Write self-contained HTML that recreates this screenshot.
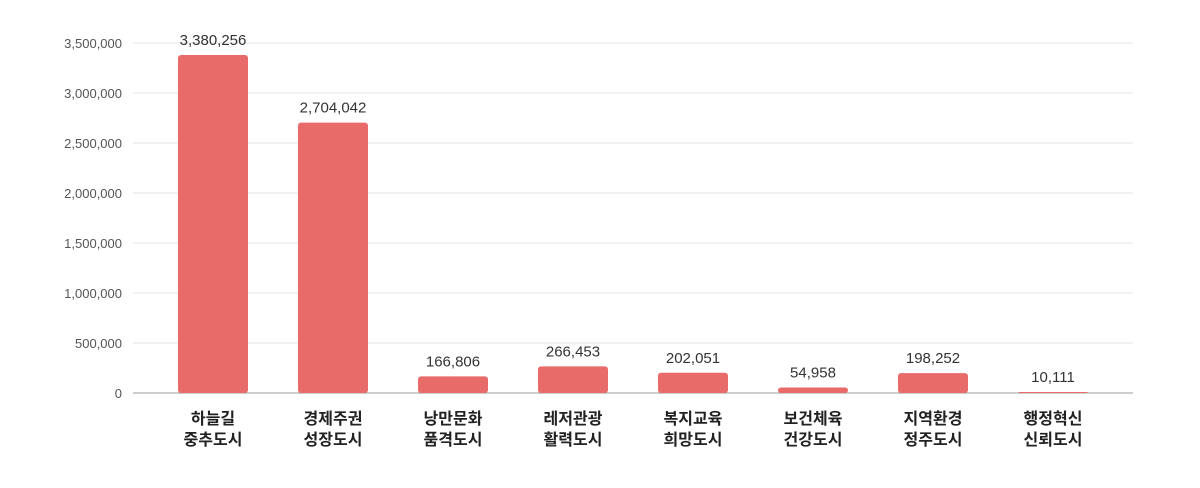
<!DOCTYPE html>
<html><head><meta charset="utf-8"><style>
body{margin:0;background:#fff;}
svg{display:block;font-family:"Liberation Sans","Noto Sans CJK KR",sans-serif;}
</style></head><body>
<svg id="chart" width="1200" height="488" viewBox="0 0 1200 488"></svg>
<script>
const categories=[["하늘길","중추도시"],["경제주권","성장도시"],["낭만문화","품격도시"],["레저관광","활력도시"],["복지교육","희망도시"],["보건체육","건강도시"],["지역환경","정주도시"],["행정혁신","신뢰도시"]];
const values=[3380256,2704042,166806,266453,202051,54958,198252,10111];
const yTicks=[0,500000,1000000,1500000,2000000,2500000,3000000,3500000];
const NS="http://www.w3.org/2000/svg";
const svg=document.getElementById('chart');
const y0=393,pxPer=350/3500000;
const y=v=>y0-v*pxPer;
const x=i=>213+i*120;
const fmt=v=>v.toLocaleString('en-US');
function mk(t,a){const e=document.createElementNS(NS,t);for(const k in a)e.setAttribute(k,a[k]);svg.appendChild(e);return e;}
yTicks.forEach(t=>{
  const l=mk('line',{x1:133,x2:1133,y1:y(t),y2:y(t),stroke:t===0?'#9e9e9e':'#e3e3e3','stroke-width':1});
  
  
  const tx=mk('text',{x:122,y:y(t)+5,'text-anchor':'end','font-size':13,fill:'#555'});
  tx.textContent=fmt(t);
  
  
});
values.forEach((v,i)=>{
  const r=mk('rect',{x:x(i)-35,y:y(v),width:70,height:y0-y(v),rx:3,fill:'#e96b69'});
  
  
  const t=mk('text',{x:x(i),y:y(v)-10,'text-anchor':'middle','font-size':15,fill:'#333'});
  t.textContent=fmt(v);
  
  
  categories[i].forEach((s,j)=>{
    const c=mk('text',{x:x(i),y:424+j*21,'text-anchor':'middle','font-size':16,'font-weight':'bold',fill:'#222'});
    c.textContent=s;
    
    
  });
});
</script>
</body></html>
